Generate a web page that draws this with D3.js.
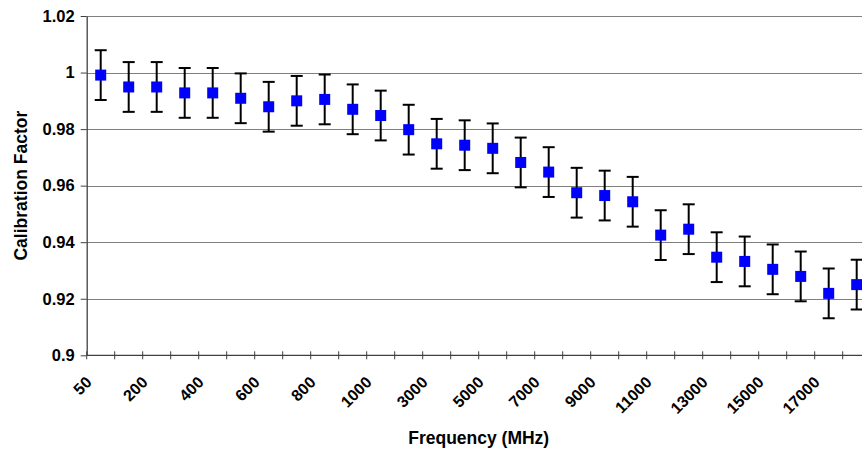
<!DOCTYPE html>
<html>
<head>
<meta charset="utf-8">
<script src="https://cdn.jsdelivr.net/npm/d3@7"></script>
<style>
  html, body { margin: 0; padding: 0; background: #fff; }
  svg { display: block; font-family: Arial, 'Liberation Sans', sans-serif; }
</style>
</head>
<body>
<svg id="chart" width="862" height="451"></svg>
<script>
// frequency categories (MHz)
const categories = ['50', '100', '200', '300', '400', '500', '600', '700', '800', '900',
  '1000', '2000', '3000', '4000', '5000', '6000', '7000', '8000', '9000', '10000',
  '11000', '12000', '13000', '14000', '15000', '16000', '17000', '18000'];

// calibration factor per category
const calFactor = [0.9991, 0.9949, 0.9949, 0.9928, 0.9928, 0.9909, 0.9879, 0.9900, 0.9905, 0.9870,
  0.9848, 0.9798, 0.9748, 0.9743, 0.9732, 0.9682, 0.9648, 0.9575, 0.9565, 0.9543,
  0.9425, 0.9446, 0.9347, 0.9332, 0.9304, 0.9279, 0.9219, 0.9250];

// fixed +/- error bar value
const errorAmount = 0.0088;

const yTicks = [0.9, 0.92, 0.94, 0.96, 0.98, 1, 1.02];
const yTickLabels = ['0.9', '0.92', '0.94', '0.96', '0.98', '1', '1.02'];

const data = categories.map((c, i) => ({ freq: c, value: calFactor[i] }));

const svg = d3.select('#chart');
const margin = { top: 16, left: 86.7, bottom: 355.3 };
const step = 28;

const xScale = d3
  .scaleBand()
  .domain(categories)
  .range([margin.left, margin.left + step * categories.length])
  .padding(0);

const yScale = d3
  .scaleLinear()
  .domain([0.9, 1.02])
  .range([margin.bottom, margin.top]);

const [x0, x1] = xScale.range();

// gridlines
svg
  .append('g')
  .selectAll('line')
  .data(yTicks.slice(1))
  .enter()
  .append('line')
  .attr('x1', x0)
  .attr('x2', x1)
  .attr('y1', (d) => Math.round(yScale(d)) + 0.5)
  .attr('y2', (d) => Math.round(yScale(d)) + 0.5)
  .attr('stroke', '#7f7f7f')
  .attr('stroke-width', 1);

// y axis
const yAxis = d3
  .axisLeft(yScale)
  .tickValues(yTicks)
  .tickFormat((d, i) => yTickLabels[i])
  .tickSize(6)
  .tickPadding(6)
  .tickSizeOuter(0);

const yG = svg
  .append('g')
  .attr('transform', `translate(${x0},0)`)
  .call(yAxis);
yG.select('.domain').attr('stroke', '#404040').attr('stroke-width', 1.3);
yG.selectAll('.tick line').attr('stroke', '#404040');
yG.selectAll('.tick text')
  .attr('fill', '#000')
  .style('font-size', '16.5px')
  .style('font-weight', 'bold');

// x axis line and tick marks between categories
svg
  .append('line')
  .attr('x1', x0)
  .attr('x2', x1)
  .attr('y1', yScale(0.9))
  .attr('y2', yScale(0.9))
  .attr('stroke', '#404040')
  .attr('stroke-width', 1.3);

svg
  .append('g')
  .selectAll('line')
  .data(categories)
  .enter()
  .append('line')
  .attr('x1', (d) => xScale(d))
  .attr('x2', (d) => xScale(d))
  .attr('y1', yScale(0.9) - 4)
  .attr('y2', yScale(0.9) + 4)
  .attr('stroke', '#404040')
  .attr('stroke-width', 1);

// x labels, every other category, rotated
svg
  .append('g')
  .selectAll('text')
  .data(categories.filter((d, i) => i % 2 === 0))
  .enter()
  .append('text')
  .attr(
    'transform',
    (d) => `translate(${xScale(d) + xScale.bandwidth() / 2 - 8},${yScale(0.9) + 28}) rotate(-45)`
  )
  .attr('text-anchor', 'end')
  .style('font-size', '16px')
  .style('font-weight', 'bold')
  .text((d) => d);

// error bars
const cx = (d) => xScale(d.freq) + xScale.bandwidth() / 2;
const bars = svg.append('g').attr('stroke', '#000').attr('stroke-width', 2);

bars
  .selectAll('.err')
  .data(data)
  .enter()
  .append('line')
  .attr('x1', cx)
  .attr('x2', cx)
  .attr('y1', (d) => yScale(d.value + errorAmount))
  .attr('y2', (d) => yScale(d.value - errorAmount));

bars
  .selectAll('.capTop')
  .data(data)
  .enter()
  .append('line')
  .attr('x1', (d) => cx(d) - 6)
  .attr('x2', (d) => cx(d) + 6)
  .attr('y1', (d) => yScale(d.value + errorAmount))
  .attr('y2', (d) => yScale(d.value + errorAmount));

bars
  .selectAll('.capBottom')
  .data(data)
  .enter()
  .append('line')
  .attr('x1', (d) => cx(d) - 6)
  .attr('x2', (d) => cx(d) + 6)
  .attr('y1', (d) => yScale(d.value - errorAmount))
  .attr('y2', (d) => yScale(d.value - errorAmount));

// square markers
svg
  .append('g')
  .selectAll('rect')
  .data(data)
  .enter()
  .append('rect')
  .attr('x', (d) => cx(d) - 5.5)
  .attr('y', (d) => yScale(d.value) - 5.5)
  .attr('width', 11)
  .attr('height', 11)
  .attr('fill', '#0000ff');

// axis titles
svg
  .append('text')
  .attr('x', (x0 + x1) / 2)
  .attr('y', 444)
  .attr('text-anchor', 'middle')
  .style('font-size', '17.5px')
  .style('font-weight', 'bold')
  .text('Frequency (MHz)');

svg
  .append('text')
  .attr('transform', `translate(26.5,${(margin.top + margin.bottom) / 2}) rotate(-90)`)
  .attr('text-anchor', 'middle')
  .style('font-size', '17.5px')
  .style('font-weight', 'bold')
  .text('Calibration Factor');
</script>
</body>
</html>
